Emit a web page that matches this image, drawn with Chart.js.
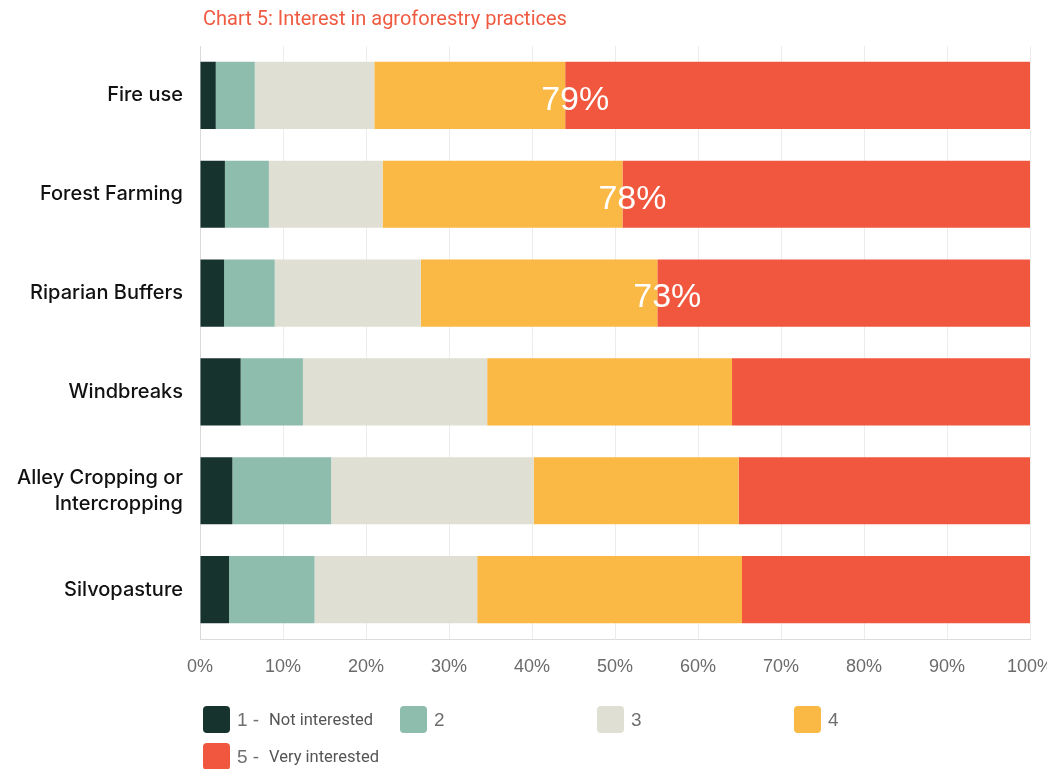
<!DOCTYPE html>
<html>
<head>
<meta charset="utf-8">
<script src="https://cdn.jsdelivr.net/npm/chart.js@4.4.0/dist/chart.umd.min.js"></script>
<style>
  body { margin: 0; background: #fff; }
  #wrap { width: 1047px; height: 769px; position: relative; }
</style>
</head>
<body>
<div id="wrap"><canvas id="practices"></canvas></div>
<script>
// share of answers per practice, 1 = not interested ... 5 = very interested
var practices = ['Fire use', 'Forest Farming', 'Riparian Buffers', 'Windbreaks', ['Alley Cropping or', 'Intercropping'], 'Silvopasture'];
var score1 = [1.9, 3.0, 2.9, 4.9, 3.9, 3.5];
var score2 = [4.7, 5.3, 6.1, 7.5, 11.9, 10.3];
var score3 = [14.4, 13.7, 17.6, 22.2, 24.4, 19.6];
var score4 = [23.0, 28.9, 28.5, 29.5, 24.7, 31.9];
var score5 = [56.0, 49.1, 44.9, 35.9, 35.1, 34.7];

var scoreNames = ['1 -', '2', '3', '4', '5 -'];
var scoreNotes = ['Not interested', '', '', '', 'Very interested'];
var scoreColors = ['#17332e', '#8ebcad', '#e0dfd3', '#fab845', '#f0573e'];

// rows that get the "4 + 5" total written on them
var labelledRows = [0, 1, 2];
var xTicks = [0, 10, 20, 30, 40, 50, 60, 70, 80, 90, 100];

var allScores = [score1, score2, score3, score4, score5];

var datasets = allScores.map(function (vals, i) {
  return {
    label: scoreNames[i],
    data: vals,
    backgroundColor: scoreColors[i],
    borderWidth: 0,
    categoryPercentage: 1,
    barPercentage: 0.68
  };
});

var titlePlugin = {
  id: 'chartTitle',
  afterDraw: function (chart) {
    var ctx = chart.ctx;
    ctx.save();
    ctx.font = '20px Roboto';
    ctx.fillStyle = '#ef5a41';
    ctx.textAlign = 'left';
    ctx.textBaseline = 'middle';
    ctx.fillText('Chart 5: Interest in agroforestry practices', chart.chartArea.left + 3, 20);
    ctx.restore();
  }
};

var totalsPlugin = {
  id: 'topTwoTotals',
  afterDatasetsDraw: function (chart) {
    var ctx = chart.ctx;
    var xs = chart.scales.x;
    var meta = chart.getDatasetMeta(4);
    ctx.save();
    ctx.font = '34px "Liberation Sans"';
    ctx.fillStyle = '#ffffff';
    ctx.textAlign = 'center';
    ctx.textBaseline = 'middle';
    labelledRows.forEach(function (r) {
      var before = score1[r] + score2[r] + score3[r] + score4[r];
      var total = Math.round(score4[r] + score5[r]);
      var x = xs.getPixelForValue(before) + 10;
      var y = meta.data[r].y + 5;
      ctx.fillText(total + '%', x, y);
    });
    ctx.restore();
  }
};

var legendPlugin = {
  id: 'scoreLegend',
  afterDraw: function (chart) {
    var ctx = chart.ctx;
    var left = chart.chartArea.left + 3;
    var top = chart.chartArea.bottom + 67;
    var colW = 197, rowH = 37, box = 27;
    ctx.save();
    ctx.textAlign = 'left';
    ctx.textBaseline = 'middle';
    for (var i = 0; i < scoreNames.length; i++) {
      var col = i % 4, row = Math.floor(i / 4);
      var x = left + col * colW;
      var y = top + row * rowH;
      ctx.fillStyle = scoreColors[i];
      ctx.beginPath();
      ctx.roundRect(x, y, box, box, 4);
      ctx.fill();
      var cy = y + box / 2 + 1;
      ctx.font = '19px "Liberation Sans"';
      ctx.fillStyle = '#6f6f6f';
      ctx.fillText(scoreNames[i], x + 34, cy);
      if (scoreNotes[i]) {
        ctx.font = '16.5px Roboto';
        ctx.fillStyle = '#555555';
        ctx.fillText(scoreNotes[i], x + 66, cy);
      }
    }
    ctx.restore();
  }
};

new Chart(document.getElementById('practices'), {
  type: 'bar',
  data: { labels: practices, datasets: datasets },
  options: {
    indexAxis: 'y',
    responsive: true,
    maintainAspectRatio: false,
    animation: false,
    layout: { padding: { top: 46, right: 17, left: 0, bottom: 0 } },
    scales: {
      x: {
        stacked: true,
        min: 0,
        max: 100,
        afterBuildTicks: function (scale) {
          scale.ticks = xTicks.map(function (v) { return { value: v }; });
        },
        afterFit: function (scale) {
          scale.height = 130;
          scale.paddingLeft = 0;
          scale.paddingRight = 0;
        },
        grid: { color: '#ececec', lineWidth: 1, drawTicks: false },
        border: { display: true, color: '#dcdcdc' },
        ticks: {
          padding: 17,
          maxRotation: 0,
          color: '#6b6b6b',
          font: { family: 'Liberation Sans', size: 18 },
          callback: function (v) { return v + '%'; }
        }
      },
      y: {
        stacked: true,
        afterFit: function (scale) {
          scale.width = 200;
          scale.paddingTop = 0;
          scale.paddingBottom = 0;
        },
        grid: { display: false, drawTicks: false },
        border: { display: true, color: '#d9d9d9' },
        ticks: {
          padding: 17,
          color: '#111111',
          font: { family: 'Inter', size: 20, weight: '500', lineHeight: 1.3 }
        }
      }
    },
    plugins: {
      legend: { display: false },
      title: { display: false },
      tooltip: { enabled: false }
    }
  },
  plugins: [titlePlugin, totalsPlugin, legendPlugin]
});
</script>
</body>
</html>
